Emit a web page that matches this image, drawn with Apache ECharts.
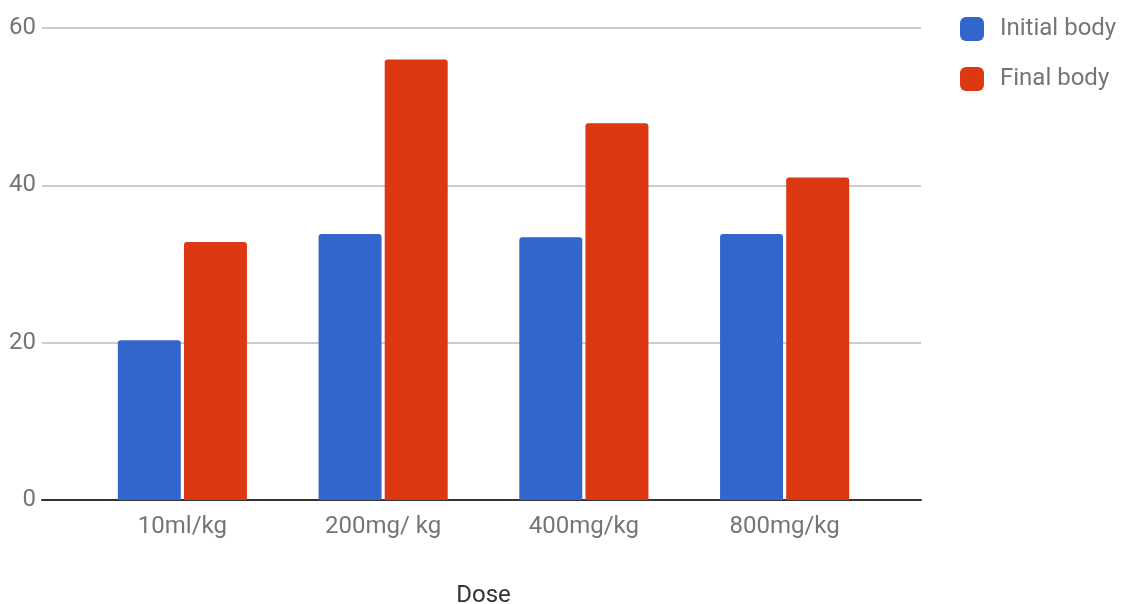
<!DOCTYPE html>
<html>
<head>
<meta charset="utf-8">
<script src="https://cdn.jsdelivr.net/npm/echarts@6/dist/echarts.min.js"></script>
<style>html,body{margin:0;padding:0;background:#fff;}#c{width:1123px;height:604px;}</style>
</head>
<body>
<div id="c"></div>
<script>
const categories = ['10ml/kg', '200mg/ kg', '400mg/kg', '800mg/kg'];
const initialBody = [20.3, 33.8, 33.4, 33.8];
const finalBody = [32.8, 56.0, 47.9, 41.0];
const seriesNames = ['Initial body', 'Final body'];
const xAxisTitle = 'Dose';

const chart = echarts.init(document.getElementById('c'), null, {renderer: 'canvas'});
const font = 'Roboto';
chart.setOption({
  animation: false,
  textStyle: {fontFamily: font},
  legend: {
    orient: 'vertical',
    left: 960, top: 17, padding: 0,
    itemWidth: 24, itemHeight: 24, itemGap: 26,
    icon: 'roundRect',
    textStyle: {fontSize: 24, color: '#757575', fontFamily: font, padding: [4, 0, 0, 11]},
    data: seriesNames
  },
  grid: [
    {left: 42, right: 202, top: 28, bottom: 104, containLabel: false, outerBoundsMode: 'none'},
    {left: 82, right: 238, top: 28, bottom: 104, containLabel: false, outerBoundsMode: 'none'}
  ],
  xAxis: [
    {type: 'category', gridIndex: 0, data: [''], axisLine: {show: true, lineStyle: {color: '#333', width: 2}},
     axisTick: {show: false}, axisLabel: {show: false}},
    {type: 'category', gridIndex: 1, data: categories, axisLine: {show: false}, axisTick: {show: false},
     axisLabel: {fontSize: 24, color: '#757575', margin: 15, fontFamily: font},
     name: xAxisTitle, nameLocation: 'middle', nameGap: 84,
     nameTextStyle: {fontSize: 24, color: '#333', fontFamily: font}}
  ],
  yAxis: [
    {type: 'value', gridIndex: 0, min: 0, max: 60, interval: 20,
     axisLine: {show: false}, axisTick: {show: false},
     axisLabel: {fontSize: 24, color: '#757575', margin: 6, fontFamily: font},
     splitLine: {lineStyle: {color: '#cccccc', width: 2}}},
    {type: 'value', gridIndex: 1, min: 0, max: 60, interval: 20, show: false}
  ],
  series: [
    {name: seriesNames[0], type: 'bar', xAxisIndex: 1, yAxisIndex: 1, data: initialBody,
     barWidth: 63, barGap: '5%', itemStyle: {color: '#3366cc', borderRadius: [3, 3, 0, 0]}},
    {name: seriesNames[1], type: 'bar', xAxisIndex: 1, yAxisIndex: 1, data: finalBody,
     barWidth: 63, barGap: '5%', itemStyle: {color: '#dc3912', borderRadius: [3, 3, 0, 0]}}
  ]
});
</script>
</body>
</html>
